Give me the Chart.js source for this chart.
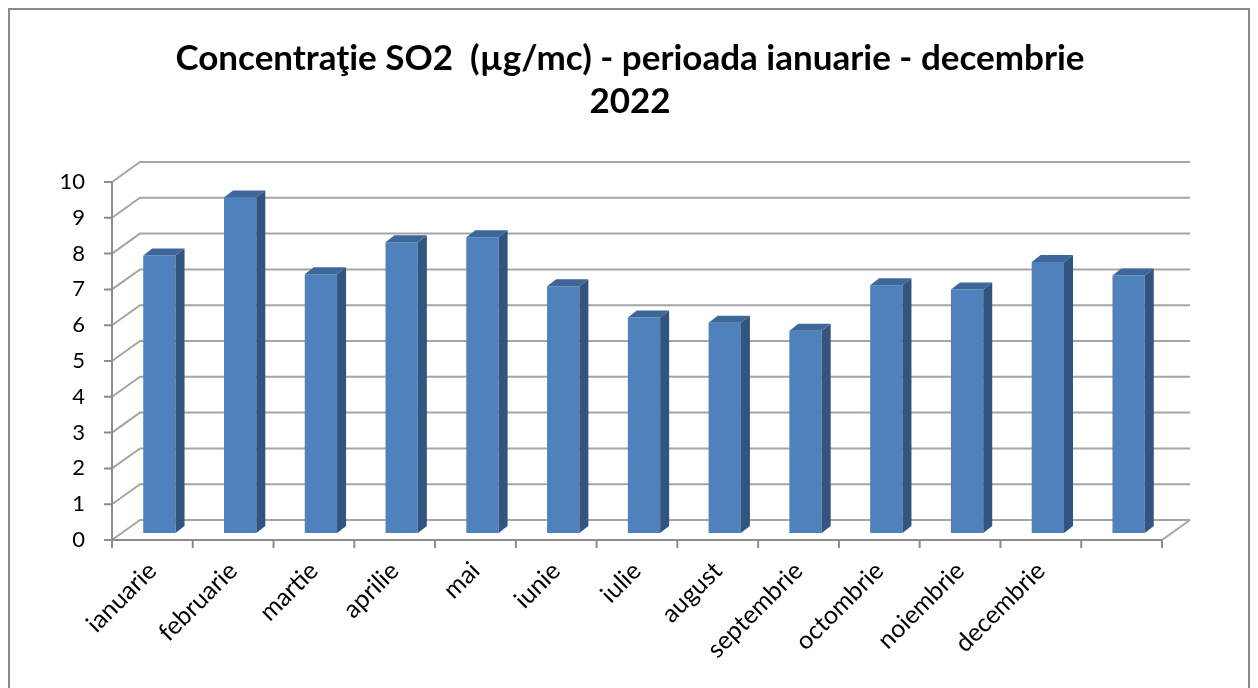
<!DOCTYPE html>
<html>
<head>
<meta charset="utf-8">
<title>Concentraţie SO2 2022</title>
<script src="https://cdn.jsdelivr.net/npm/chart.js@4.4.1/dist/chart.umd.min.js"></script>
<style>
    html, body { margin: 0; padding: 0; background: #fff; }
    #wrap { width: 1258px; height: 688px; }
</style>
</head>
<body>
<div id="wrap"><canvas id="so2Chart" width="1258" height="688"></canvas></div>
<script>
// Data
const months = ['ianuarie', 'februarie', 'martie', 'aprilie', 'mai', 'iunie', 'iulie',
    'august', 'septembrie', 'octombrie', 'noiembrie', 'decembrie', ''];
const so2Values = [7.75, 9.37, 7.23, 8.12, 8.26, 6.89, 6.02, 5.87, 5.65, 6.92, 6.80, 7.57, 7.19];
const yMin = 0;
const yMax = 10;
const yStep = 1;
const titleLines = ['Concentraţie SO2  (µg/mc) - perioada ianuarie - decembrie', '2022'];

// 3D look
const wallDepth = { dx: 28, dy: -20 };   // front plane -> back wall
const barShift = { dx: 7, dy: -7 };      // front plane -> bar front face
const barDepth = { dx: 9, dy: -7 };      // bar front face -> bar back face
const gridColor = '#a5a5a5';
const axisColor = '#8c8c8c';

// Border, title, walls and grid
const backdropPlugin = {
    id: 'backdrop',
    beforeDraw(chart) {
        const ctx = chart.ctx;
        ctx.save();
        ctx.fillStyle = '#fff';
        ctx.fillRect(0, 0, chart.width, chart.height);
        ctx.strokeStyle = '#8a8a8a';
        ctx.lineWidth = 2;
        ctx.strokeRect(9, 9, chart.width - 18, chart.height + 20);

        ctx.fillStyle = '#000';
        ctx.font = 'bold 35px Lato';
        ctx.textAlign = 'center';
        ctx.textBaseline = 'alphabetic';
        ctx.fillText(titleLines[0], 630, 70);
        ctx.fillText(titleLines[1], 630, 113);
        ctx.restore();
    },
    beforeDatasetsDraw(chart) {
        const ctx = chart.ctx;
        const y = chart.scales.y;
        const left = chart.chartArea.left;
        const right = chart.chartArea.right;

        ctx.save();
        ctx.lineWidth = 2;
        ctx.strokeStyle = gridColor;
        ctx.beginPath();
        for (let v = yMin; v <= yMax; v += yStep) {
            const yf = y.getPixelForValue(v);
            ctx.moveTo(left, yf);
            ctx.lineTo(left + wallDepth.dx, yf + wallDepth.dy);
            ctx.lineTo(right + wallDepth.dx, yf + wallDepth.dy);
        }
        // right edge of the floor
        const y0 = y.getPixelForValue(0);
        ctx.moveTo(right, y0);
        ctx.lineTo(right + wallDepth.dx, y0 + wallDepth.dy);
        ctx.stroke();

        // front axes with tick marks
        ctx.strokeStyle = axisColor;
        ctx.beginPath();
        ctx.moveTo(left, y.getPixelForValue(yMax));
        ctx.lineTo(left, y0);
        ctx.lineTo(right, y0);
        for (let v = yMin; v <= yMax; v += yStep) {
            const yf = y.getPixelForValue(v);
            ctx.moveTo(left - 8, yf);
            ctx.lineTo(left, yf);
        }
        const slot = (right - left) / months.length;
        for (let i = 0; i <= months.length; i++) {
            const tx = left + i * slot;
            ctx.moveTo(tx, y0);
            ctx.lineTo(tx, y0 + 8);
        }
        ctx.stroke();
        ctx.restore();

        // bars are drawn a little behind the front plane
        ctx.save();
        ctx.translate(barShift.dx, barShift.dy);
    },
    afterDatasetsDraw(chart) {
        const ctx = chart.ctx;
        chart.getDatasetMeta(0).data.forEach(bar => {
            const l = bar.x - bar.width / 2;
            const r = bar.x + bar.width / 2;
            const t = bar.y;
            const b = bar.base;
            // side face
            ctx.fillStyle = '#32547f';
            ctx.beginPath();
            ctx.moveTo(r, t);
            ctx.lineTo(r + barDepth.dx, t + barDepth.dy);
            ctx.lineTo(r + barDepth.dx, b + barDepth.dy);
            ctx.lineTo(r, b);
            ctx.closePath();
            ctx.fill();
            // top face
            ctx.fillStyle = '#3d6699';
            ctx.beginPath();
            ctx.moveTo(l, t);
            ctx.lineTo(l + barDepth.dx, t + barDepth.dy);
            ctx.lineTo(r + barDepth.dx, t + barDepth.dy);
            ctx.lineTo(r, t);
            ctx.closePath();
            ctx.fill();
        });
        ctx.restore();
    }
};

const ctx = document.getElementById('so2Chart').getContext('2d');
new Chart(ctx, {
    type: 'bar',
    data: {
        labels: months,
        datasets: [{
            label: 'SO2',
            data: so2Values,
            backgroundColor: '#4f81bd',
            borderWidth: 0,
            barPercentage: 0.4,
            categoryPercentage: 1
        }]
    },
    options: {
        responsive: false,
        animation: false,
        devicePixelRatio: 1,
        layout: {
            padding: { top: 182, right: 96, bottom: 0, left: 0 }
        },
        plugins: {
            legend: { display: false },
            title: { display: false },
            tooltip: { enabled: false }
        },
        scales: {
            x: {
                grid: { display: false, drawTicks: false },
                border: { display: false },
                ticks: {
                    minRotation: 45,
                    maxRotation: 45,
                    autoSkip: false,
                    padding: 16,
                    color: '#000',
                    font: { family: 'Lato', size: 25 }
                },
                afterFit(scale) { scale.height = 148; }
            },
            y: {
                min: yMin,
                max: yMax,
                grid: { display: false, drawTicks: false },
                border: { display: false },
                ticks: {
                    stepSize: yStep,
                    padding: 27,
                    color: '#000',
                    font: { family: 'Lato', size: 22 }
                },
                afterFit(scale) { scale.width = 112; }
            }
        }
    },
    plugins: [backdropPlugin]
});
</script>
</body>
</html>
